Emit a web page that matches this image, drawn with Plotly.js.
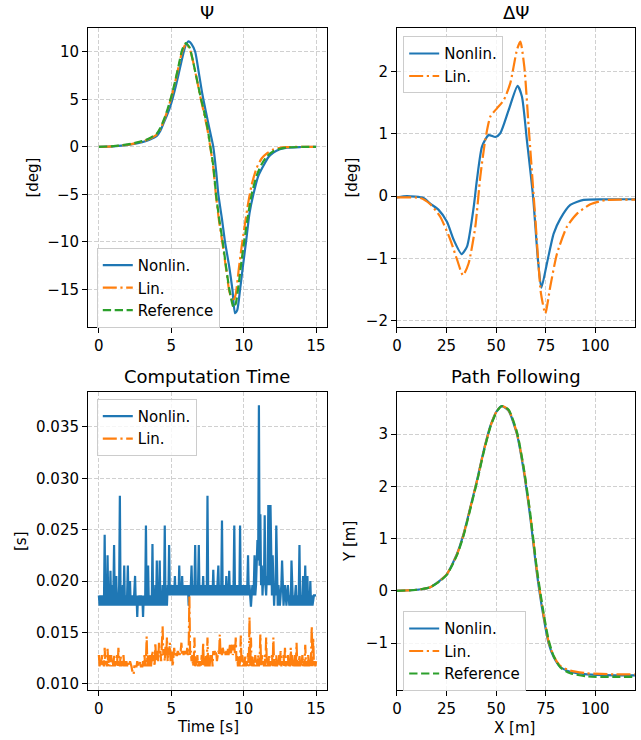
<!DOCTYPE html>
<html><head><meta charset="utf-8">
<script src="https://cdn.plot.ly/plotly-3.0.1.min.js"></script>
<style>body{margin:0;background:#fff}#plot{width:641px;height:740px}</style>
</head><body><div id="plot"></div>
<script>
// ---------- Psi [deg] vs time [s] ----------
const psiT_nonlin = [0,1,2,3,3.5,4,4.25,4.5,4.75,5,5.25,5.5,5.75,6,6.2,6.4,6.65,6.9,7.15,7.4,7.65,7.9,8.1,8.25,8.5,8.71,9.0,9.22,9.4,9.55,9.75,9.95,10.16,10.4,10.67,11.0,11.36,11.7,12.05,12.5,13,14,15];
const psi_nonlin  = [0,0.05,0.2,0.5,0.75,1.15,1.7,2.6,3.5,4.6,6.0,7.6,9.3,10.7,11.1,10.8,10.0,7.8,5.5,3.6,1.8,0,-2.6,-5.0,-7.6,-10.0,-12.6,-15.0,-17.5,-17.2,-15.0,-12.5,-10.0,-7.0,-5.0,-3.1,-2.0,-1.1,-0.6,-0.25,-0.08,-0.02,0];
const psiT_lin = [0,1,2,3,3.5,4,4.25,4.5,4.75,5,5.25,5.5,5.75,6,6.25,6.5,6.75,7.0,7.25,7.5,7.7,7.9,8.09,8.3,8.55,8.8,9.01,9.25,9.45,9.65,9.85,10.05,10.3,10.55,10.9,11.25,11.6,12.0,12.5,13,14,15];
const psi_lin  = [0,0.06,0.22,0.55,0.85,1.3,1.9,2.8,3.9,5.2,6.7,8.4,10.0,10.8,10.4,9.0,7.2,5.3,3.6,1.8,-0.1,-2.2,-5.2,-7.8,-10.3,-13.0,-15.2,-16.3,-15.5,-13.0,-10.6,-8.5,-6.0,-4.0,-2.2,-1.2,-0.7,-0.3,-0.1,-0.03,0,0];
const psiT_ref = [0,1,2,3,3.5,4,4.25,4.5,4.75,5,5.25,5.5,5.75,6,6.25,6.5,6.75,7.0,7.25,7.5,7.7,7.9,8.09,8.3,8.55,8.8,9.01,9.3,9.45,9.65,9.85,10.05,10.3,10.55,10.9,11.25,11.6,12.0,12.5,13,14,15];
const psi_ref  = [0,0.07,0.25,0.6,0.9,1.4,2.0,2.9,4.0,5.3,6.8,8.5,10.2,10.9,10.5,9.0,7.2,5.4,3.8,2.0,0.0,-2.0,-5.0,-7.5,-10.0,-12.8,-15.0,-16.9,-16.5,-14.5,-12.0,-9.8,-7.2,-5.0,-3.0,-1.8,-1.0,-0.5,-0.2,-0.06,-0.01,0];

// ---------- Delta Psi [deg] vs X [m] ----------
const dpsiX_nonlin = [0,5,13.4,16.8,21,25.2,28.6,32.6,35.3,38.7,40.3,42.9,46.2,49.6,52.1,56.3,60.8,63,65.5,68.6,71.1,72.8,75.6,79,82.4,87.4,94.1,104,125];
const dpsi_nonlin  = [-0.02,0,-0.03,-0.12,-0.22,-0.41,-0.70,-0.93,-0.81,-0.17,0.26,0.80,0.98,0.95,1.01,1.38,1.77,1.6,0.9,0,-1.03,-1.47,-1.08,-0.6,-0.36,-0.14,-0.06,-0.05,-0.05];
const dpsiX_lin = [0,11.8,16.8,21.8,26.9,30.3,33.3,36.1,39.5,42,44.5,47.1,50.4,53.8,57.1,60.5,62.2,64.2,66.4,69.7,72.6,74.8,77.3,80.7,85.7,90.8,97.5,105.9,125];
const dpsi_lin  = [-0.02,-0.03,-0.13,-0.33,-0.70,-1.02,-1.27,-1.08,-0.49,0.31,0.90,1.28,1.41,1.54,1.81,2.35,2.48,2.08,1.11,-0.33,-1.56,-1.88,-1.45,-0.92,-0.49,-0.28,-0.13,-0.06,-0.06];

// ---------- Computation time, read in ms, sampled every 0.05 s from 0 to 15 s ----------
const compT_step = 0.05;
const comp_nonlin_ms = [
18.6,17.6,18.6,17.6,18.6,17.6,18.6,17.6,24.5,17.6,18.6,17.6,22.5,17.6,18.6,17.6,21.0,17.6,19.6,17.6,
18.6,23.5,17.6,18.6,20.5,17.6,18.6,17.6,19.6,28.3,17.6,18.6,17.6,19.6,17.6,21.5,17.6,18.6,17.6,18.6,
21.5,17.6,18.6,20.0,17.6,18.6,17.6,18.6,17.6,18.6,20.5,17.6,18.6,16.5,18.6,17.6,18.6,17.6,18.6,17.6,
18.6,16.5,18.6,17.6,18.6,25.4,17.6,18.6,21.5,17.6,18.6,17.6,18.6,17.6,23.6,17.6,18.6,17.6,19.6,17.6,
22.0,17.6,18.6,17.6,22.0,17.6,18.6,17.6,19.6,17.6,18.6,25.4,17.6,18.6,17.6,19.6,18.6,23.5,18.6,19.6,
18.6,19.6,18.6,19.6,18.6,20.5,18.6,19.6,18.6,19.6,18.6,21.5,18.6,19.6,18.6,20.5,18.6,19.6,18.6,19.6,
18.6,19.6,18.6,19.6,17.6,19.6,18.6,19.6,21.5,18.6,19.6,18.6,19.6,23.5,18.6,19.6,18.6,19.6,23.5,18.6,
19.6,18.6,19.6,18.6,20.5,18.6,19.6,18.6,19.6,18.6,28.3,18.6,19.6,18.6,19.6,18.6,19.6,18.6,21.1,18.6,
19.6,18.6,19.6,18.6,19.6,21.5,18.6,19.6,18.6,19.6,25.9,18.6,19.6,18.6,19.6,18.6,20.5,18.6,19.6,18.6,
21.0,18.6,19.6,18.6,19.6,18.6,19.6,25.4,18.6,19.6,18.6,19.6,18.6,19.6,18.6,25.4,18.6,19.6,18.6,19.6,
18.6,19.6,18.6,19.6,18.6,19.6,22.5,18.6,19.6,18.6,17.5,18.6,19.6,18.6,19.6,22.5,18.6,19.6,21.5,24.0,
22.0,37.1,21.5,26.5,19.6,21.5,18.6,20.5,19.6,26.4,19.6,18.6,20.5,19.6,27.4,21.5,19.6,27.4,20.5,18.6,
22.5,18.6,17.6,19.6,18.6,25.4,18.6,17.6,19.6,18.6,17.6,18.6,19.6,22.0,18.6,17.6,18.6,19.6,18.6,17.6,
18.6,19.6,18.6,17.6,18.6,17.6,22.0,18.6,17.6,18.6,17.6,18.6,19.6,17.6,18.6,17.6,18.6,23.5,17.6,18.6,
17.6,18.6,20.5,17.6,18.6,21.5,17.6,18.6,20.5,17.6,18.6,17.6,20.0,17.6,18.6,17.6,18.6,18.6,18.6,18.6,
18.6];
const comp_lin_ms = [
12.8,11.7,12.2,11.7,12.8,11.7,12.2,11.7,13.5,11.7,12.2,11.7,13.4,11.7,12.8,11.7,12.2,12.8,11.7,12.2,
11.7,12.8,11.7,12.2,11.7,12.8,11.7,13.5,12.2,11.7,12.8,11.7,12.2,11.7,12.8,11.7,12.2,11.7,12.2,11.7,
12.2,11.7,11.7,12.2,11.7,11.7,11.3,11.1,10.9,11.7,11.7,11.7,11.7,12.2,11.7,11.7,11.7,12.2,11.7,11.7,
11.7,12.2,11.7,12.8,11.7,12.2,14.6,11.7,12.8,11.7,12.2,12.8,11.7,12.8,13.2,12.2,12.8,11.7,14.0,12.2,
12.8,13.2,12.2,14.0,12.8,13.2,12.2,14.0,15.6,12.8,13.2,12.2,13.6,12.8,14.5,12.2,13.2,12.8,14.0,12.2,
12.8,13.2,11.7,12.8,13.5,12.8,13.2,12.8,12.8,13.2,12.8,13.2,12.8,13.2,14.0,12.8,13.2,12.8,13.2,12.8,
13.2,12.8,13.5,12.8,13.2,18.5,12.8,13.2,12.2,12.8,11.7,12.2,14.5,11.7,12.2,11.7,12.8,11.7,12.2,11.7,
12.2,11.7,12.8,11.7,14.0,11.7,12.2,11.7,12.8,11.7,14.5,11.7,12.2,11.7,12.8,12.2,12.8,11.7,13.2,12.8,
13.2,12.8,13.2,12.2,12.8,13.2,12.8,14.8,12.8,13.2,12.8,13.5,13.2,12.8,13.2,12.8,13.2,12.8,13.5,12.8,
13.2,13.8,12.8,13.2,13.8,12.8,13.2,13.8,12.8,14.5,12.2,12.8,11.7,12.8,11.7,12.2,14.7,11.7,12.8,11.7,
12.2,11.7,12.8,11.7,12.2,11.7,13.0,11.7,16.5,11.7,14.5,11.7,12.8,11.7,12.2,11.7,12.8,11.7,12.2,11.7,
12.8,11.7,12.2,14.8,11.7,12.8,11.7,12.2,11.7,12.8,11.7,14.5,11.7,12.2,11.7,12.8,11.7,12.2,11.7,12.8,
11.7,14.5,11.7,12.2,11.7,12.8,11.7,12.2,11.7,12.8,11.7,13.2,11.7,12.2,11.7,12.8,11.7,13.5,11.7,12.2,
11.7,12.8,11.7,12.2,11.7,13.5,11.7,12.8,11.7,12.2,11.7,12.8,11.7,14.0,11.7,12.2,11.7,12.8,11.7,12.2,
11.7,12.8,11.7,12.2,11.7,13.8,11.7,12.2,11.7,12.8,11.7,12.2,11.7,12.8,15.6,11.7,14.5,11.7,12.2,11.7,
12.2];
const compT = comp_nonlin_ms.map((_,i)=>+(i*compT_step).toFixed(2));
const comp_nonlin = comp_nonlin_ms.map(v=>v/1000);   // ms -> s
const comp_lin = comp_lin_ms.map(v=>v/1000);

// ---------- Path following Y [m] vs X [m] ----------
const pathX = [0,10,16.8,21.8,25.2,30.3,33.6,37,40.3,43.7,47.1,50.4,53,56.3,60.5,63.9,67.2,70.6,73.9,76.5,79,82.4,87.4,95.8,110,125];
const pathY_nonlin = [0,0.02,0.07,0.2,0.32,0.71,1.09,1.6,2.11,2.68,3.16,3.45,3.54,3.45,3.0,2.3,1.41,0.32,-0.5,-1.01,-1.27,-1.46,-1.55,-1.60,-1.62,-1.62];
const pathY_lin    = [0,0.02,0.07,0.2,0.32,0.70,1.08,1.59,2.10,2.67,3.15,3.45,3.54,3.46,3.02,2.34,1.46,0.37,-0.46,-0.98,-1.25,-1.44,-1.53,-1.58,-1.60,-1.60];
const pathY_ref    = [0,0.02,0.07,0.19,0.31,0.69,1.06,1.57,2.08,2.65,3.14,3.44,3.54,3.47,3.04,2.36,1.48,0.40,-0.42,-0.95,-1.25,-1.47,-1.58,-1.64,-1.65,-1.65];

const names = ['Nonlin.','Lin.','Reference'];
const titles = ['Ψ','ΔΨ','Computation Time','Path Following'];
const tickX_time = [0,5,10,15];
const tickX_pos = [0,25,50,75,100];

const BLUE='#1f77b4', ORANGE='#ff7f0e', GREEN='#2ca02c';
const LW = 2.2;
const LN = {color:BLUE,width:LW};
const LL = {color:ORANGE,width:LW,dash:'14px,3.6px,2.2px,3.6px'};
const LR = {color:GREEN,width:LW,dash:'8.3px,3.6px'};
const sm = (l)=>Object.assign({shape:'spline',smoothing:0.6},l);

const traces = [
 {x:psiT_nonlin,y:psi_nonlin,name:names[0],line:sm(LN),xaxis:'x',yaxis:'y',legend:'legend'},
 {x:psiT_lin,y:psi_lin,name:names[1],line:sm(LL),xaxis:'x',yaxis:'y',legend:'legend'},
 {x:psiT_ref,y:psi_ref,name:names[2],line:sm(LR),xaxis:'x',yaxis:'y',legend:'legend'},
 {x:dpsiX_nonlin,y:dpsi_nonlin,name:names[0],line:sm(LN),xaxis:'x2',yaxis:'y2',legend:'legend2'},
 {x:dpsiX_lin,y:dpsi_lin,name:names[1],line:sm(LL),xaxis:'x2',yaxis:'y2',legend:'legend2'},
 {x:compT,y:comp_nonlin,name:names[0],line:LN,xaxis:'x3',yaxis:'y3',legend:'legend3'},
 {x:compT,y:comp_lin,name:names[1],line:LL,xaxis:'x3',yaxis:'y3',legend:'legend3'},
 {x:pathX,y:pathY_nonlin,name:names[0],line:sm(LN),xaxis:'x4',yaxis:'y4',legend:'legend4'},
 {x:pathX,y:pathY_lin,name:names[1],line:sm(LL),xaxis:'x4',yaxis:'y4',legend:'legend4'},
 {x:pathX,y:pathY_ref,name:names[2],line:sm(LR),xaxis:'x4',yaxis:'y4',legend:'legend4'}
].map(t=>Object.assign({type:'scatter',mode:'lines',hoverinfo:'skip'},t));

const FONT = 'DejaVu Sans, sans-serif';
const FS = 15;
function ax(extra){
  return Object.assign({
    showline:true, mirror:true, linecolor:'#000', linewidth:1,
    ticks:'outside', ticklen:5, tickwidth:1, tickcolor:'#000',
    showgrid:true, gridcolor:'#c4c4c4', griddash:'4px,2px', gridwidth:0.8,
    zeroline:false, tickfont:{size:FS,color:'#000',family:FONT}
  }, extra);
}
const XL=[0.1373,0.5101], XR=[0.6193,0.9906], YT=[0.5581,0.9622], YB=[0.0676,0.4703];
const legBase = {font:{size:FS,family:FONT,color:'#000'},bgcolor:'rgba(255,255,255,0.8)',
  bordercolor:'#cccccc',borderwidth:1,xanchor:'left',yanchor:'top',itemwidth:30,
  tracegroupgap:0, itemclick:false};

const axisLabels = [
  {text:'[deg]', x:0.0515, y:0.7601, a:-90},
  {text:'[deg]', x:0.5491, y:0.7601, a:-90},
  {text:'[s]',   x:0.0328, y:0.2689, a:-90},
  {text:'Y [m]', x:0.5460, y:0.2689, a:-90},
  {text:'Time [s]', x:0.3245, y:0.0176, a:0},
  {text:'X [m]', x:0.8034, y:0.0162, a:0}
].map(o=>({text:o.text, xref:'paper', yref:'paper', x:o.x, y:o.y, textangle:o.a,
  xanchor:'center', yanchor:'middle', showarrow:false, font:{size:FS,family:FONT,color:'#000'}}));

const layout = {
  width:641, height:740, margin:{l:0,r:0,t:0,b:0},
  paper_bgcolor:'#fff', plot_bgcolor:'#fff',
  font:{family:FONT,color:'#000'},
  xaxis: ax({domain:XL,anchor:'y',range:[-0.75,15.75],tickvals:tickX_time}),
  yaxis: ax({domain:YT,anchor:'x',range:[-18.95,12.5],dtick:5}),
  xaxis2: ax({domain:XR,anchor:'y2',range:[0,120],tickvals:tickX_pos}),
  yaxis2: ax({domain:YT,anchor:'x2',range:[-2.1,2.7],dtick:1}),
  xaxis3: ax({domain:XL,anchor:'y3',range:[-0.75,15.75],tickvals:tickX_time}),
  yaxis3: ax({domain:YB,anchor:'x3',range:[0.0094,0.0384],tick0:0,dtick:0.005,tickformat:'.3f'}),
  xaxis4: ax({domain:XR,anchor:'y4',range:[0,120],tickvals:tickX_pos}),
  yaxis4: ax({domain:YB,anchor:'x4',range:[-1.9,3.81],dtick:1}),
  legend:  Object.assign({x:0.151,y:0.665},legBase),
  legend2: Object.assign({x:0.629,y:0.951},legBase),
  legend3: Object.assign({x:0.151,y:0.461},legBase),
  legend4: Object.assign({x:0.629,y:0.174},legBase),
  showlegend:true,
  annotations: titles.map((t,i)=>({
    text:t, showarrow:false, xref:(i?'x'+(i+1):'x')+' domain', yref:(i?'y'+(i+1):'y')+' domain',
    x:0.5, y:1, xanchor:'center', yanchor:'bottom', yshift:3,
    font:{size:18,family:FONT,color:'#000'}
  })).concat(axisLabels)
};
Plotly.newPlot('plot', traces, layout, {staticPlot:true, displayModeBar:false});
</script>
</body></html>
